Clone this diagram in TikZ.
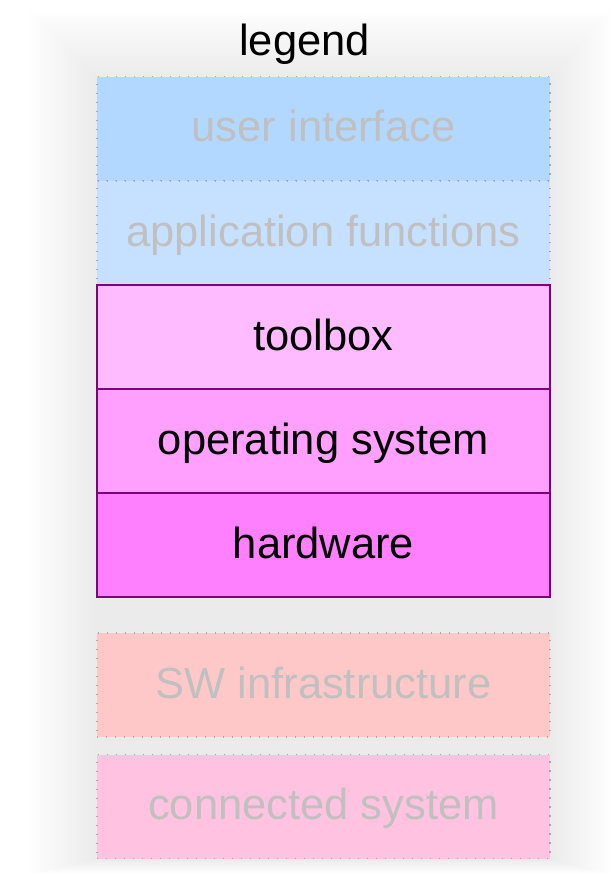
\documentclass[tikz,border=0pt]{standalone}
\usepackage{fontspec}
\setmainfont{Liberation Sans}
\definecolor{uiblue}{HTML}{B3D8FF}
\definecolor{appblue}{HTML}{C6E1FF}
\definecolor{tbpink}{HTML}{FFBBFF}
\definecolor{ospink}{HTML}{FFA0FF}
\definecolor{hwpink}{HTML}{FF80FF}
\definecolor{swred}{HTML}{FFC8C8}
\definecolor{cspink}{HTML}{FFC2E0}
\definecolor{fadetext}{HTML}{C0C0C0}
\definecolor{dotgray}{HTML}{A8A8A8}
\definecolor{edgepurple}{HTML}{800080}
\tikzset{
  layer/.style={rectangle, minimum width=453, minimum height=104, inner sep=0pt,
    font=\fontsize{43.5}{50}\selectfont, text height=33pt, text depth=7pt},
  ghost/.style={layer, draw=dotgray, line width=1.1pt, dash pattern=on 1.2pt off 7.8pt, text=fadetext},
  solidlayer/.style={layer, draw=edgepurple, line width=1.3pt, text=black},
}
\begin{document}
\begin{tikzpicture}[x=1pt,y=-1pt]
\useasboundingbox (0,0) rectangle (615,876);
\fill[white] (0,0) rectangle (615,876);
% soft gray backdrop
\foreach \i in {0,...,19}{
  \pgfmathsetmacro{\t}{\i/19}
  \fill[black, opacity=0.0056]
    ({28+\t*(95-28)},{8+\t*(76-8)}) rectangle ({612-\t*(612-553)},{874-\t*(874-860)});
}
\node[font=\fontsize{43.5}{50}\selectfont, anchor=base] (legend) at (304.5,55) {legend};
\node[ghost, fill=uiblue] (ui) at (323.5,128.5) {user interface};
\node[ghost, fill=appblue] (app) at (323.5,233) {application functions};
\node[solidlayer, fill=tbpink] (tb) at (323.5,337) {toolbox};
\node[solidlayer, fill=ospink] (os) at (323.5,441) {operating system};
\node[solidlayer, fill=hwpink] (hw) at (323.5,545) {hardware};
\node[ghost, fill=swred] (sw) at (323.5,685) {SW infrastructure};
\node[ghost, fill=cspink] (cs) at (323.5,806.5) {connected system};
\end{tikzpicture}
\end{document}
